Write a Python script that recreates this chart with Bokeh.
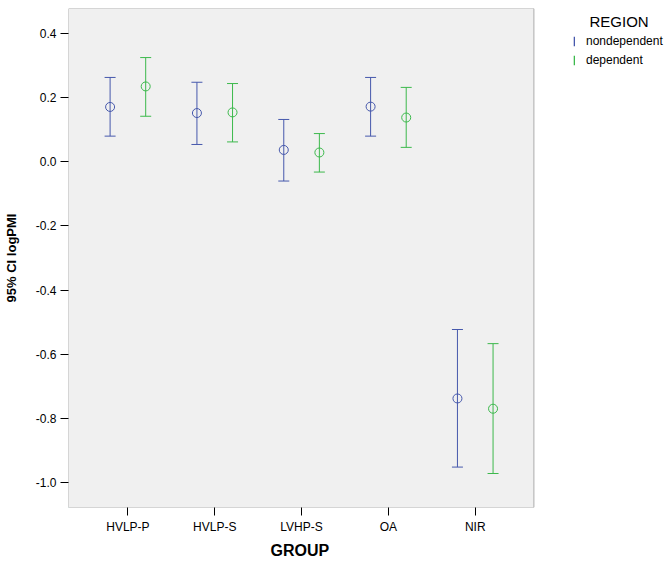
from bokeh.plotting import figure
from bokeh.models import (Range1d, FixedTicker, Whisker, ColumnDataSource, Legend,
                          LegendItem, TeeHead, NumeralTickFormatter, Label, BoxAnnotation,
                          Title)
from bokeh.embed import file_html
from bokeh.resources import INLINE

groups = ["HVLP-P", "HVLP-S", "LVHP-S", "OA", "NIR"]
nd_mean = [0.171, 0.152, 0.037, 0.172, -0.738]
nd_upper = [0.263, 0.248, 0.132, 0.263, -0.523]
nd_lower = [0.080, 0.054, -0.060, 0.080, -0.952]
d_mean = [0.235, 0.154, 0.029, 0.138, -0.770]
d_upper = [0.325, 0.244, 0.088, 0.232, -0.567]
d_lower = [0.142, 0.062, -0.032, 0.045, -0.972]
y_ticks = [-1.0, -0.8, -0.6, -0.4, -0.2, 0.0, 0.2, 0.4]
series_names = ["nondependent", "dependent"]
legend_title = "REGION"
x_title = "GROUP"
y_title = "95% CI logPMI"

BLUE = "#4658ac"
GREEN = "#3cb94c"
FONT = "Liberation Sans"
OFFSET = 0.205
X0, X_AREA_END, X_END = 0.316, 5.676, 7.237
Y0, Y1 = -1.078, 0.478

p = figure(width=669, height=563, output_backend="svg", toolbar_location=None,
           x_range=Range1d(X0, X_END), y_range=Range1d(Y0, Y1),
           min_border_left=66, min_border_right=0, min_border_top=8, min_border_bottom=56,
           background_fill_color="white", border_fill_color="white")
p.outline_line_color = None
p.grid.visible = False

# grey plotting area with black border
p.add_layout(BoxAnnotation(left=X0, right=X_AREA_END, bottom=Y0, top=Y1,
                           fill_color="#f0f0f0", fill_alpha=1.0,
                           line_color="black", line_width=1, level="underlay"))

pos = list(range(1, len(groups) + 1))
legend_items = []
for k, (mean, up, lo, col) in enumerate([(nd_mean, nd_upper, nd_lower, BLUE),
                                          (d_mean, d_upper, d_lower, GREEN)]):
    off = -OFFSET if k == 0 else OFFSET
    xs = [x + off for x in pos]
    src = ColumnDataSource(dict(x=xs, mean=mean, upper=up, lower=lo))
    w = Whisker(source=src, base="x", upper="upper", lower="lower", dimension="height",
                line_color=col, line_width=1,
                upper_head=TeeHead(size=11, line_color=col, line_width=1),
                lower_head=TeeHead(size=11, line_color=col, line_width=1))
    p.add_layout(w)
    p.scatter(x="x", y="mean", source=src, marker="circle", size=9,
              fill_color=None, line_color=col, line_width=1)
    # legend key renderer, placed off-range so only its legend icon shows
    key = p.vbar(x=[-100], bottom=[-100], top=[-99], width=0.1,
                 fill_color=col, line_color=None)
    legend_items.append(LegendItem(label=series_names[k], renderers=[key]))

legend = Legend(items=legend_items, location=(505, 438), orientation="vertical",
                padding=0, margin=0, spacing=0, label_height=19, glyph_height=12,
                glyph_width=2, label_standoff=11, border_line_color=None,
                background_fill_alpha=0, label_text_font_size="12px",
                label_text_font=FONT, label_text_color="black")
p.add_layout(legend)
p.add_layout(Label(x=521, y=486, x_units="screen", y_units="screen", text=legend_title,
                   text_font=FONT, text_font_size="15px", text_baseline="middle",
                   text_color="black"))

# axes
p.xaxis.ticker = FixedTicker(ticks=pos)
p.xaxis.major_label_overrides = {i + 1: g for i, g in enumerate(groups)}
p.yaxis.ticker = FixedTicker(ticks=y_ticks)
p.yaxis.formatter = NumeralTickFormatter(format="0.0")

for ax in (p.xaxis, p.yaxis):
    ax.axis_line_color = None
    ax.major_tick_line_color = "black"
    ax.major_tick_out = 8
    ax.major_tick_in = 0
    ax.minor_tick_line_color = None
    ax.major_label_text_font = FONT
    ax.major_label_text_font_size = "12px"
    ax.major_label_text_color = "black"
    ax.axis_label_text_font = FONT
    ax.axis_label_text_font_style = "bold"
    ax.axis_label_text_color = "black"

p.xaxis.major_label_standoff = 4
p.yaxis.axis_label = y_title
p.yaxis.axis_label_text_font_size = "13px"
p.yaxis.major_label_standoff = 4
p.yaxis.axis_label_standoff = 14

# x-axis title, centred under the grey plotting area (not the whole frame)
p.add_layout(Title(text=x_title, align="left", offset=202, standoff=6,
                   text_font=FONT, text_font_size="16px", text_font_style="bold",
                   text_color="black"), "below")

open("out.html", "w").write(file_html(p, INLINE))
